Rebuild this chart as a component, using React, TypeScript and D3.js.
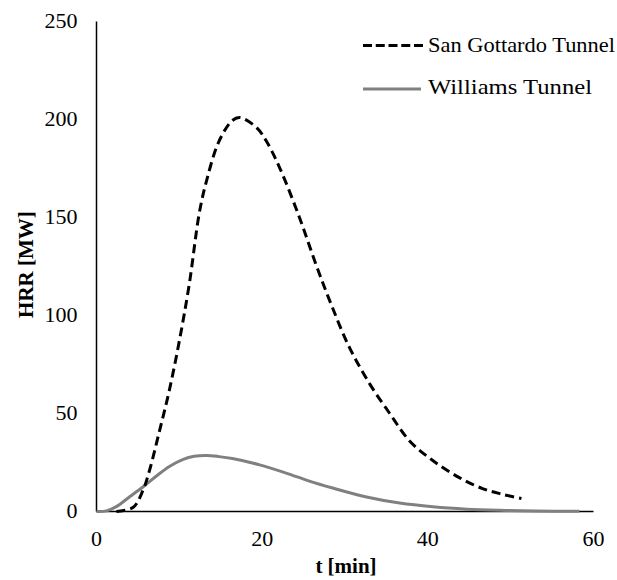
import React from "react";
import * as d3 from "d3";

const sanGottardoT = [2.4, 4.4, 5.6, 6.4, 7.6, 8.8, 10, 11.2, 12.4, 13.3, 14.8, 16.4, 17.3, 19.3, 20.5, 22.1, 24.5, 26.5, 28.3, 30.5, 33, 35.4, 37.8, 40.6, 43.8, 46.6, 49, 51.3];
const sanGottardoV = [0, 2, 10.7, 21, 41, 62, 87, 116, 152, 169, 189, 199.5, 201, 196, 189, 175.5, 150, 126, 106, 84, 65, 50, 36, 26, 17.3, 11.7, 8.8, 6.6];

const williamsT = [0, 1.2, 2.4, 4, 5.6, 7.2, 8.8, 10.4, 11.8, 13.3, 14.8, 16.4, 19.7, 22.9, 25.7, 28.5, 32.6, 36.6, 40.6, 44.7, 48.7, 53, 58.3];
const williamsV = [0, 0.3, 2.5, 7.5, 12.5, 18, 23, 26.5, 28.2, 28.6, 28, 27, 23.8, 19.6, 15.5, 12, 7.4, 4.3, 2.4, 1.2, 0.6, 0.25, 0.1];

const xTicks = [0, 20, 40, 60];
const yTicks = [0, 50, 100, 150, 200, 250];
const seriesNames = ["San Gottardo Tunnel", "Williams Tunnel"];

export default function App() {
  const W = 617, H = 580;
  const x = d3.scaleLinear().domain([0, 60]).range([96.5, 593.5]);
  const y = d3.scaleLinear().domain([0, 250]).range([511.5, 21.5]);
  const line = d3.line<[number, number]>().x(d => x(d[0])).y(d => y(d[1])).curve(d3.curveCatmullRom.alpha(0.5));
  const sg = sanGottardoT.map((t, i) => [t, sanGottardoV[i]] as [number, number]);
  const wl = williamsT.map((t, i) => [t, williamsV[i]] as [number, number]);
  const F = "Liberation Serif";
  return (
    <div style={{ fontFamily: "Liberation Serif, Tinos, serif" }}>
      <svg width={W} height={H} style={{ position: "absolute", left: 0, top: 0, background: "#fff" }}>
        <style>{`text { font-family: "Liberation Serif", Tinos, "Times New Roman", serif; }`}</style>
        <rect width={W} height={H} fill="#fff" />
        <line x1={x(0)} x2={x(0)} y1={y(250)} y2={y(0)} stroke="#000" strokeWidth={1.5} />
        <line x1={x(0)} x2={x(60)} y1={y(0)} y2={y(0)} stroke="#000" strokeWidth={1.5} />
        <g fontFamily={F}>
          {yTicks.map(v => (
            <text key={v} fontFamily={F} x={77.5} y={y(v) + 6} textAnchor="end" fontSize={22}>{v}</text>
          ))}
          {xTicks.map(v => (
            <text key={v} fontFamily={F} x={x(v)} y={546} textAnchor="middle" fontSize={22}>{v}</text>
          ))}
          <text fontFamily={F} x={346} y={573} textAnchor="middle" fontSize={21} fontWeight="bold">t [min]</text>
          <text fontFamily={F} transform={`translate(33,${y(126)}) rotate(-90)`} textAnchor="middle" fontSize={21} fontWeight="bold">HRR [MW]</text>
        </g>
        <path d={line(wl) || ""} fill="none" stroke="#808080" strokeWidth={3} />
        <path d={line(sg) || ""} fill="none" stroke="#000" strokeWidth={3} strokeDasharray="9,5" />
        <line x1={363} x2={423} y1={45.5} y2={45.5} stroke="#000" strokeWidth={3} strokeDasharray="9,3.75" />
        <text fontFamily={F} x={428} y={52} fontSize={22} textLength={187} lengthAdjust="spacingAndGlyphs">{seriesNames[0]}</text>
        <line x1={363} x2={421} y1={89} y2={89} stroke="#808080" strokeWidth={3} />
        <text fontFamily={F} x={428} y={93.5} fontSize={22} textLength={164} lengthAdjust="spacingAndGlyphs">{seriesNames[1]}</text>
      </svg>
    </div>
  );
}
